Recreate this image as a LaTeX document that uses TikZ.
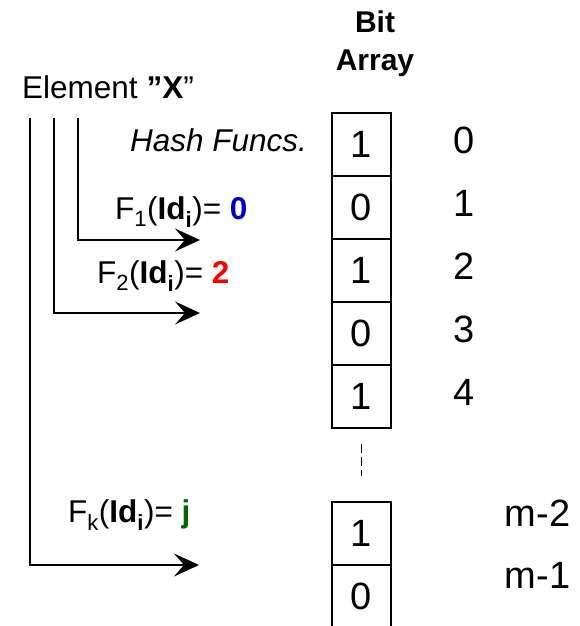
\documentclass[tikz,border=0pt]{standalone}
\usepackage{fontspec}
\setmainfont{Liberation Sans}
\usepackage{xcolor}
\definecolor{hblue}{RGB}{0, 0, 204}
\definecolor{hred}{RGB}{255, 0, 0}
\definecolor{hgreen}{RGB}{0, 102, 0}
\usetikzlibrary{arrows.meta, calc, positioning}

\tikzset{
  bitcell/.style={draw, line width=1.5pt, minimum width=59pt, minimum height=63pt,
    inner sep=0pt, font=\fontsize{38}{40}\selectfont},
  bigtxt/.style={inner sep=0pt, font=\fontsize{38}{40}\selectfont},
  smalltxt/.style={inner sep=0pt, font=\fontsize{31.5}{36}\selectfont},
  hashline/.style={line width=1.3pt, -{Stealth[length=25pt, width=23pt, inset=10pt]}}
}

\begin{document}
\begin{tikzpicture}[x=1pt, y=-1pt]
  \useasboundingbox (0,0) rectangle (579,626);
  % bit array
  \node[smalltxt, align=center, font=\fontsize{30}{38}\selectfont\bfseries] (title) at (375,44) {Bit\\Array};
  \foreach \v [count=\i from 0] in {1,0,1,0,1} {
    \node[bitcell] (cell\i) at (361.5,{144.5+63*\i}) {\v};
    \node[bigtxt] (idx\i) at ($(cell\i.center)+(103,-4)$) {\i};
  }
  \node[bitcell] (cellA) at (361.5,533.5) {1};
  \node[bitcell] (cellB) at (361.5,596.5) {0};
  \node[bigtxt] (idxA) at ($(cellA.center)+(176,-20)$) {m-2};
  \node[bigtxt] (idxB) at ($(cellB.center)+(176,-21)$) {m-1};
  \draw[line width=1.3pt, dash pattern=on 9pt off 4pt] ([yshift=-15pt]cell4.south) -- ([yshift=25pt]cellA.north);
  % element and hash functions
  \node[smalltxt, anchor=west] (elem) at (22,87) {Element \textbf{”X}”};
  \node[smalltxt, anchor=west] (hash) at (130,140) {\itshape Hash Funcs.};
  \coordinate (s1) at (78,118);
  \coordinate (s2) at (54,118);
  \coordinate (s3) at (30,118);
  \coordinate (t1) at (200,240);
  \coordinate (t2) at (200,313);
  \coordinate (t3) at (199,565);
  \draw[hashline] (s1) |- (t1);
  \draw[hashline] (s2) |- (t2);
  \draw[hashline] (s3) |- (t3);
  \node[smalltxt, anchor=west] (f1) at (115,212) {F\textsubscript{1}(\textbf{Id\textsubscript{i}})= \textcolor{hblue}{\textbf{0}}};
  \node[smalltxt, anchor=west] (f2) at (97,276) {F\textsubscript{2}(\textbf{Id\textsubscript{i}})= \textcolor{hred}{\textbf{2}}};
  \node[smalltxt, anchor=west] (fk) at (68,515) {F\textsubscript{k}(\textbf{Id\textsubscript{i}})= \textcolor{hgreen}{\textbf{j}}};
\end{tikzpicture}
\end{document}
